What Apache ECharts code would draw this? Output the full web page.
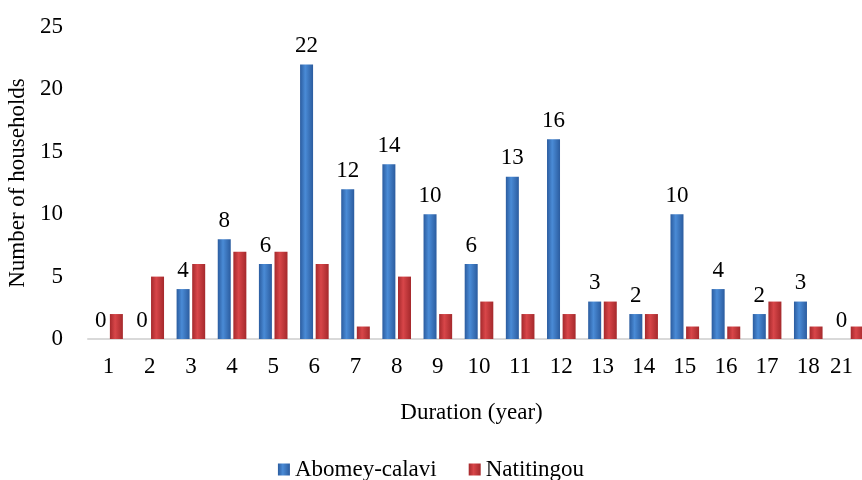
<!DOCTYPE html>
<html>
<head>
<meta charset="utf-8">
<script src="https://cdn.jsdelivr.net/npm/echarts@6/dist/echarts.min.js"></script>
<style>html,body{margin:0;padding:0;background:#fff;}#c{width:862px;height:480px;}</style>
</head>
<body>
<div id="c"></div>
<script>
var categories = ['1','2','3','4','5','6','7','8','9','10','11','12','13','14','15','16','17','18','21'];
var abomey = [0,0,4,8,6,22,12,14,10,6,13,16,3,2,10,4,2,3,0];
var natitingou = [2,5,6,7,7,6,1,5,2,3,2,2,3,2,1,1,3,1,1];
var yTicks = [0,5,10,15,20,25];

var font = 'Liberation Serif';
var fs = 23;
function grad(dark, light) {
  return new echarts.graphic.LinearGradient(0,0,1,0,[
    {offset:0,color:dark},{offset:0.4,color:light},{offset:1,color:dark}
  ]);
}
var chart = echarts.init(document.getElementById('c'));
chart.setOption({
  animation:false,
  textStyle:{fontFamily:font,color:'#000'},
  grid:{left:88,right:-8,top:27,bottom:141,containLabel:false,outerBoundsMode:'none'},
  legend:{
    top:453,left:'center',itemWidth:12,itemHeight:12,itemGap:32,
    icon:'rect',
    textStyle:{fontFamily:font,fontSize:fs,color:'#000'},
    data:['Abomey-calavi','Natitingou']
  },
  xAxis:{
    type:'category',data:categories,
    name:'Duration (year)',nameLocation:'middle',nameGap:62,
    nameTextStyle:{fontFamily:font,fontSize:fs,color:'#000',padding:[0,15,0,0]},
    axisLine:{lineStyle:{color:'#d9d9d9',width:2}},
    axisTick:{show:false},
    axisLabel:{fontFamily:font,fontSize:fs,color:'#000',margin:16,interval:0,
      formatter:function(v,i){return i===categories.length-1?'{r|'+v+'}':v;},
      rich:{r:{fontFamily:font,fontSize:fs,color:'#000',padding:[0,16,0,0]}}}
  },
  yAxis:{
    type:'value',min:0,max:25,interval:5,
    name:'Number of households',nameLocation:'middle',nameGap:58,
    nameTextStyle:{fontFamily:font,fontSize:fs,color:'#000'},
    axisLine:{show:false},axisTick:{show:false},splitLine:{show:false},
    axisLabel:{fontFamily:font,fontSize:fs,color:'#000',margin:25,
      formatter:function(v){return yTicks.indexOf(v)>=0?String(v):'';}}
  },
  series:[
    {name:'Abomey-calavi',type:'bar',data:abomey,barWidth:13,barGap:'20%',
     itemStyle:{color:grad('#2b5c9f','#4a8bd6')},
     label:{show:true,position:'top',distance:7,fontFamily:font,fontSize:fs,color:'#000'}},
    {name:'Natitingou',type:'bar',data:natitingou,barWidth:13,
     itemStyle:{color:grad('#a5292c','#d84649')}}
  ]
});
</script>
</body>
</html>
